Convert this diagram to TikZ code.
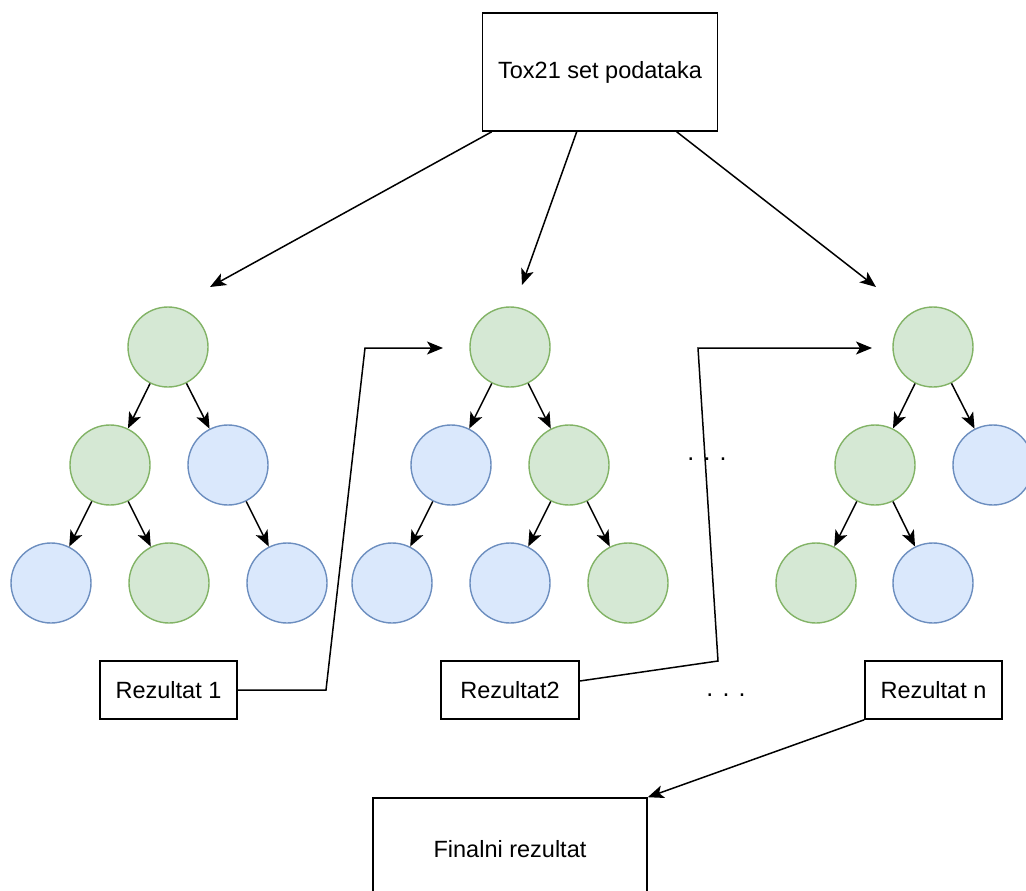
\documentclass[tikz,border=0pt]{standalone}
\usepackage{fontspec}
\setmainfont{Liberation Sans}
\usetikzlibrary{arrows.meta}
\definecolor{gfill}{HTML}{D5E8D4}
\definecolor{gline}{HTML}{82B366}
\definecolor{bfill}{HTML}{DAE8FC}
\definecolor{bline}{HTML}{6C8EBF}

\begin{document}
\begin{tikzpicture}[x=1pt,y=-1pt,font=\fontsize{23.5}{28}\selectfont,
  box/.style={draw,line width=1.6pt,inner sep=0pt},
  gn/.style={circle,draw=gline,fill=gfill,line width=1.4pt,minimum size=80pt,inner sep=0pt},
  bl/.style={circle,draw=bline,fill=bfill,line width=1.4pt,minimum size=80pt,inner sep=0pt},
  arr/.style={line width=1.5pt,-{Stealth[length=16pt,width=13pt,inset=4pt]}}]
\useasboundingbox (0,0) rectangle (1026,891);
\node[box,minimum width=235pt,minimum height=118pt] (top) at (600,72) {Tox21 set podataka};
\node[gn] (a0) at (168,347) {};
\node[gn] (a1) at (110,465) {};
\node[bl] (a2) at (228,465) {};
\node[bl] (a3) at (51,583) {};
\node[gn] (a4) at (169,583) {};
\node[bl] (a5) at (287,583) {};
\node[gn] (b0) at (510,347) {};
\node[bl] (b1) at (451,465) {};
\node[gn] (b2) at (569,465) {};
\node[bl] (b3) at (392,583) {};
\node[bl] (b4) at (510,583) {};
\node[gn] (b5) at (628,583) {};
\node[gn] (c0) at (933,347) {};
\node[gn] (c1) at (875,465) {};
\node[bl] (c2) at (993,465) {};
\node[gn] (c3) at (816,583) {};
\node[bl] (c4) at (933,583) {};
\foreach \p/\c in {a0/a1,a0/a2,a1/a3,a1/a4,a2/a5,b0/b1,b0/b2,b1/b3,b2/b4,b2/b5,c0/c1,c0/c2,c1/c3,c1/c4}
  \draw[arr] (\p)--(\c);
\node[box,minimum width=137pt,minimum height=58pt] (r1) at (168.5,690) {Rezultat 1};
\node[box,minimum width=138pt,minimum height=58pt] (r2) at (510,690) {Rezultat2};
\node[box,minimum width=137pt,minimum height=58pt] (rn) at (933.5,690) {Rezultat n};
\node[box,minimum width=274pt,minimum height=102pt] (fin) at (510,849) {Finalni rezultat};
\node[font=\fontsize{25}{30}\selectfont] (d1) at (707,459) {. . .};
\node[font=\fontsize{25}{30}\selectfont] (d2) at (726,695) {. . .};
\coordinate (e1) at (210,287);
\coordinate (e2) at (522,285);
\coordinate (e3) at (876,287);
\coordinate (k1) at (443,348);
\coordinate (k2) at (872,348);
\draw[arr] ([xshift=10pt]top.south west)--(e1);
\draw[arr] ([xshift=95pt]top.south west)--(e2);
\draw[arr] ([xshift=195pt]top.south west)--(e3);
\draw[arr] (r1.east)--(326,690)--(365,348)--(k1);
\draw[arr] ([yshift=9pt]r2.east)--(718,661)--(698,348)--(k2);
\draw[arr] (rn.south west)--(fin.north east);
\end{tikzpicture}
\end{document}
